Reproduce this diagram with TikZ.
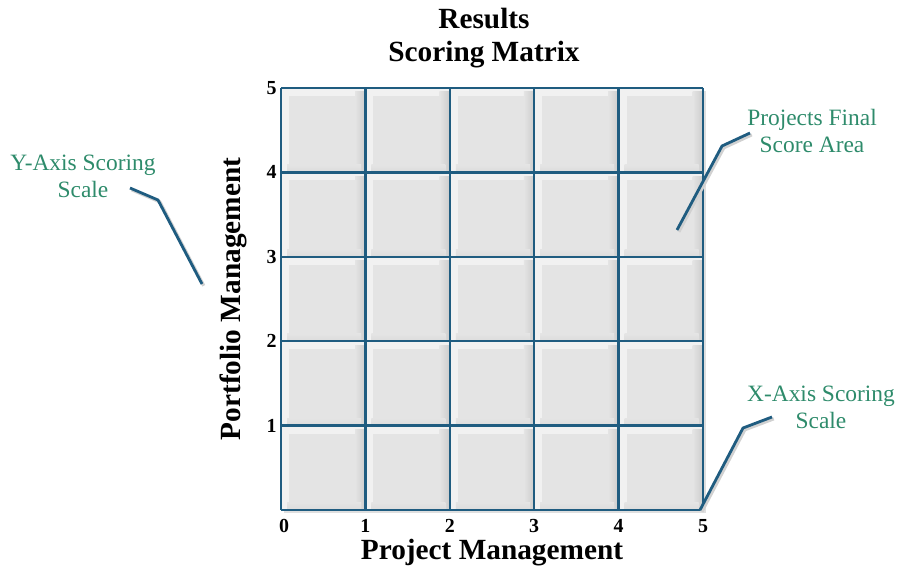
\documentclass[tikz,border=0pt]{standalone}
\usepackage{fontspec}
\setmainfont{Liberation Serif}
\usetikzlibrary{positioning,shadows}
\definecolor{grid-blue}{RGB}{31,92,128}
\definecolor{note-green}{RGB}{46,139,107}
\definecolor{cell-gray}{RGB}{228,228,228}
\definecolor{cell-light}{RGB}{241,241,241}

\begin{document}
\begin{tikzpicture}
    [x=0.03cm, y=-0.03cm,
    cell/.style = {fill=cell-light},
    inner cell/.style = {fill=cell-gray},
    cell shade/.style = {left color=cell-gray, right color=black!20},
    grid line/.style = {draw=grid-blue, line width=2pt},
    tick/.style = {font=\bfseries\fontsize{17}{17}\selectfont, inner sep=1pt},
    heading/.style = {font=\bfseries\fontsize{25}{28}\selectfont, align=center},
    note/.style = {text=note-green, align=center, font=\fontsize{20}{23}\selectfont},
    pointer/.style = {draw=grid-blue, line width=2.4pt, line join=round,
      preaction={draw=black!18, line width=2.8pt, transform canvas={xshift=1.5pt, yshift=-1.5pt}}}]

    \useasboundingbox (0,0) rectangle (907,572);

    % scoring matrix
    \fill [black!20, drop shadow={opacity=0.25, shadow xshift=2.5pt, shadow yshift=-2.5pt}]
      (281,88) rectangle (703,510);
    \foreach \i in {0,...,4} {
      \foreach \j in {0,...,4} {
        \fill [cell] (281+84.4*\i, 88+84.4*\j) rectangle (281+84.4*\i+84.4, 88+84.4*\j+84.4);
        \shade [cell shade] (281+84.4*\i+74, 88+84.4*\j+4) rectangle (281+84.4*\i+84.4, 88+84.4*\j+84.4);
        \shade [top color=cell-gray, bottom color=black!14] (281+84.4*\i+6, 88+84.4*\j+77) rectangle (281+84.4*\i+80, 88+84.4*\j+84.4);
        \fill [inner cell] (281+84.4*\i+8, 88+84.4*\j+8) rectangle (281+84.4*\i+75, 88+84.4*\j+77);
      }
    }
    \foreach \k in {0,...,5} {
      \draw [grid line] (281+84.4*\k, 88) -- (281+84.4*\k, 510);
      \draw [grid line] (281, 88+84.4*\k) -- (703, 88+84.4*\k);
    }

    % scale labels
    \node [tick] (x0) at (284,526) {0};
    \foreach \k in {1,...,5} {
      \node [tick] (x\k) at (281+84.4*\k, 526) {\k};
      \node [tick, left] (y\k) at (278, 510-84.4*\k) {\k};
    }

    % titles
    \node [heading] (title) at (484,38) {Results\\Scoring Matrix};
    \node [heading] (x title) at (492,553) {Project Management};
    \node [heading, rotate=90] (y title) at (233,299) {Portfolio Management};

    % callouts
    \node [note] (y note) at (83,176) {Y-Axis Scoring\\Scale};
    \node [note] (final note) at (812,131) {Projects Final\\Score Area};
    \node [note] (x note) at (821,407) {X-Axis Scoring\\Scale};

    \coordinate (y start) at (130,188);
    \coordinate (y bend) at (158,200);
    \coordinate (y tip) at (202,284);
    \coordinate (final start) at (750,133);
    \coordinate (final bend) at (722,146);
    \coordinate (final tip) at (677,230);
    \coordinate (x start) at (772,417);
    \coordinate (x bend) at (743,428);
    \coordinate (x tip) at (700,510);

    \draw [pointer] (y start) -- (y bend) -- (y tip);
    \draw [pointer] (final start) -- (final bend) -- (final tip);
    \draw [pointer] (x start) -- (x bend) -- (x tip);
\end{tikzpicture}
\end{document}
